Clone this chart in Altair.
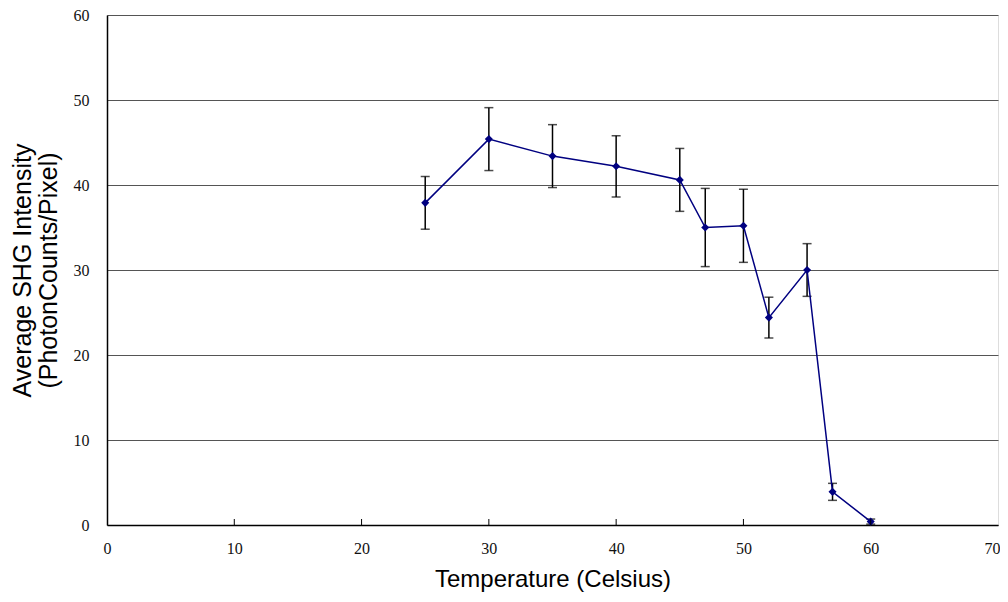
import altair as alt
import pandas as pd

temps = [25, 30, 35, 40, 45, 47, 50, 52, 55, 57, 60]
means = [37.9, 45.4, 43.4, 42.2, 40.6, 35.0, 35.2, 24.4, 30.0, 3.9, 0.4]
errs = [3.1, 3.7, 3.7, 3.6, 3.7, 4.6, 4.3, 2.4, 3.1, 1.0, 0.3]
x_ticks = [0, 10, 20, 30, 40, 50, 60, 70]
y_ticks = [0, 10, 20, 30, 40, 50, 60]

df = pd.DataFrame({"t": temps, "m": means, "e": errs})
df["lo"] = df["m"] - df["e"]
df["hi"] = df["m"] + df["e"]
ticks_df = pd.DataFrame({"t": x_ticks[1:-1]})

W, H = 891, 510
NAVY = "#000080"

xscale = alt.Scale(domain=[0, 70], nice=False)
yscale = alt.Scale(domain=[0, 60], nice=False)

xax = alt.Axis(values=x_ticks, grid=False, tickSize=0, labelFont="Liberation Serif",
               labelFontSize=16, labelColor="#111111", labelPadding=15, labelFlush=False,
               labelAlign={"condition": {"test": "datum.value == 70", "value": "right"}, "value": "center"},
               labelOffset={"condition": {"test": "datum.value == 70", "value": 2}, "value": 0},
               title="Temperature (Celsius)", titleFont="Liberation Sans", titleFontSize=24,
               titleFontWeight="normal", titleColor="black", titlePadding=11,
               domainColor="black", domainWidth=1.5)
yax = alt.Axis(values=y_ticks, grid=True, gridColor="#555555", gridWidth=1, tickSize=0,
               labelFont="Liberation Serif", labelFontSize=16, labelColor="#111111", labelPadding=18,
               labelFlush=False,
               title=["Average SHG Intensity", "(PhotonCounts/Pixel)"], titleFont="Liberation Sans",
               titleFontSize=25, titleFontWeight="normal", titleColor="black", titlePadding=12,
               titleLineHeight=26, domainColor="black", domainWidth=1.5)

base = alt.Chart(df)

bars = base.mark_rule(color="black", strokeWidth=1.5).encode(
    x=alt.X("t:Q", scale=xscale, axis=xax),
    y=alt.Y("lo:Q", scale=yscale, axis=yax),
    y2="hi:Q",
)
cap_lo = base.mark_tick(orient="horizontal", size=9, thickness=1.5, color="black").encode(
    x=alt.X("t:Q", scale=xscale), y=alt.Y("lo:Q", scale=yscale))
cap_hi = base.mark_tick(orient="horizontal", size=9, thickness=1.5, color="black").encode(
    x=alt.X("t:Q", scale=xscale), y=alt.Y("hi:Q", scale=yscale))
line = base.mark_line(color=NAVY, strokeWidth=1.5).encode(
    x=alt.X("t:Q", scale=xscale), y=alt.Y("m:Q", scale=yscale))
pts = base.mark_point(shape="diamond", filled=True, size=65, color=NAVY, opacity=1).encode(
    x=alt.X("t:Q", scale=xscale), y=alt.Y("m:Q", scale=yscale))
xt = alt.Chart(ticks_df).mark_rule(color="black", strokeWidth=1).encode(
    x=alt.X("t:Q", scale=xscale), y=alt.value(H - 6), y2=alt.value(H))

chart = alt.layer(bars, cap_lo, cap_hi, line, pts, xt).properties(
    width=W, height=H,
    autosize=alt.AutoSizeParams(type="none"),
    padding={"left": 99, "top": 7, "right": 2, "bottom": 69},
).configure_view(stroke="#9a9a9a", strokeWidth=1.5).configure(background="white")

chart.save("out.html", embed_options={"renderer": "svg", "actions": False})
